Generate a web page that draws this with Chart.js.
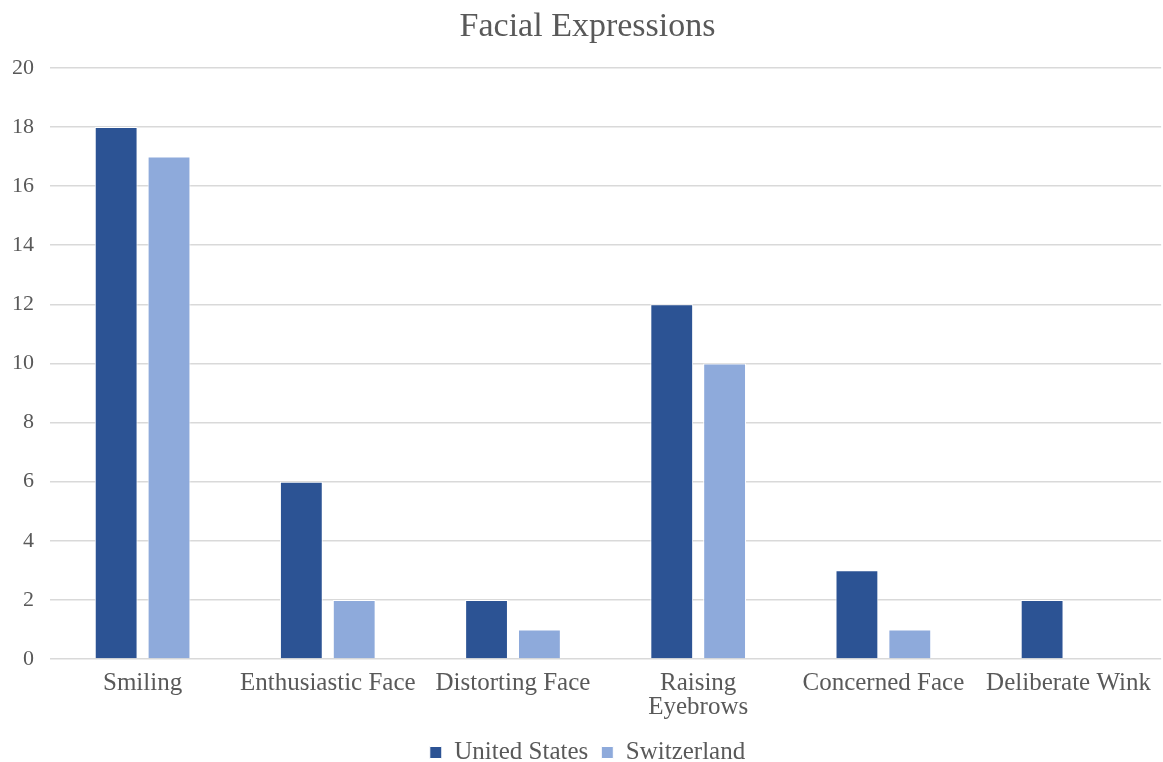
<!DOCTYPE html>
<html>
<head>
<meta charset="utf-8">
<style>
  html, body { margin: 0; padding: 0; background: #ffffff; }
  #wrap { width: 1163px; height: 762px; }
</style>
<script src="https://cdn.jsdelivr.net/npm/chart.js@4/dist/chart.umd.min.js"></script>
</head>
<body>
<div id="wrap"><canvas id="chart" width="1163" height="762"></canvas></div>
<script>
// Categories and counts per country
const categories = [
  'Smiling',
  'Enthusiastic Face',
  'Distorting Face',
  ['Raising', 'Eyebrows'],
  'Concerned Face',
  'Deliberate Wink'
];
const unitedStates = [18, 6, 2, 12, 3, 2];
const switzerland = [17, 2, 1, 10, 1, 0];
const yTicks = [0, 2, 4, 6, 8, 10, 12, 14, 16, 18, 20];

const serif = '"Liberation Serif", "Times New Roman", serif';
const textColor = '#595959';

new Chart(document.getElementById('chart'), {
  type: 'bar',
  data: {
    labels: categories,
    datasets: [
      {
        label: 'United States',
        data: unitedStates,
        backgroundColor: '#2c5394',
        borderColor: '#ffffff',
        borderWidth: 1,
        categoryPercentage: 0.571,
        barPercentage: 0.81
      },
      {
        label: 'Switzerland',
        data: switzerland,
        backgroundColor: '#8eaadb',
        borderColor: '#ffffff',
        borderWidth: 1,
        categoryPercentage: 0.571,
        barPercentage: 0.81
      }
    ]
  },
  options: {
    responsive: false,
    animation: false,
    layout: { padding: { top: 7, right: 0, bottom: -13, left: 12 } },
    plugins: {
      title: {
        display: true,
        text: 'Facial Expressions',
        color: textColor,
        font: { family: serif, size: 34, weight: 'normal' },
        padding: { top: 0, bottom: 20 }
      },
      legend: {
        position: 'bottom',
        labels: {
          color: textColor,
          font: { family: serif, size: 25 },
          boxWidth: 12,
          boxHeight: 12,
          padding: 13
        }
      },
      tooltip: { enabled: false }
    },
    scales: {
      x: {
        afterFit(scale) { scale.height -= 4; },
        grid: { display: false, drawTicks: false },
        border: { display: false },
        ticks: {
          color: textColor,
          font: { family: serif, size: 25, lineHeight: 0.96 },
          maxRotation: 0,
          autoSkip: false,
          padding: 12
        }
      },
      y: {
        min: 0,
        max: 20,
        afterFit(scale) { scale.width = 38; },
        afterBuildTicks(scale) { scale.ticks = yTicks.map(v => ({ value: v })); },
        grid: { color: '#d9d9d9', lineWidth: 1.5, drawTicks: false },
        border: { display: false },
        ticks: {
          color: textColor,
          font: { family: serif, size: 22 },
          padding: 16
        }
      }
    }
  }
});
</script>
</body>
</html>
